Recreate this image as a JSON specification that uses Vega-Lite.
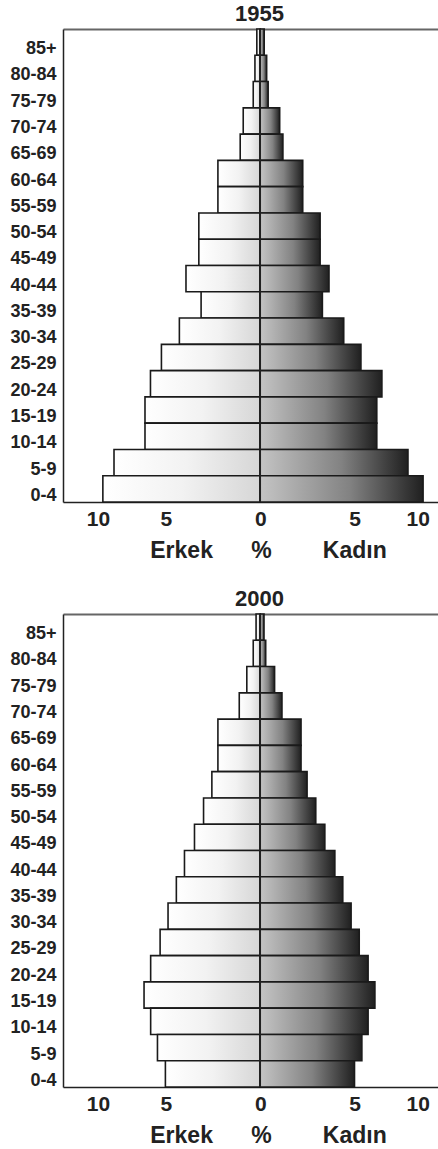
{
  "$schema": "https://vega.github.io/schema/vega-lite/v6.json",
  "autosize": "pad",
  "padding": {"left": 9, "top": 3, "right": 0, "bottom": 6},
  "background": "white",
  "config": {
    "view": {"stroke": null},
    "font": "Liberation Sans",
    "axis": {"labelFont": "Liberation Sans", "titleFont": "Liberation Sans", "labelFontWeight": "bold", "titleFontWeight": "bold", "labelColor": "#222", "titleColor": "#222", "domainColor": "#222", "domainWidth": 1.5, "ticks": false, "tickSize": 0, "grid": false},
    "title": {"font": "Liberation Sans", "fontSize": 22, "fontWeight": "bold", "color": "#222", "offset": 2, "dx": 9}
  },
  "data": {"values": [
    {"year": 1955, "age": "85+", "sex": "Erkek", "pct": -0.18}, {"year": 1955, "age": "85+", "sex": "Kadın", "pct": 0.21},
    {"year": 1955, "age": "80-84", "sex": "Erkek", "pct": -0.28}, {"year": 1955, "age": "80-84", "sex": "Kadın", "pct": 0.34},
    {"year": 1955, "age": "75-79", "sex": "Erkek", "pct": -0.37}, {"year": 1955, "age": "75-79", "sex": "Kadın", "pct": 0.42},
    {"year": 1955, "age": "70-74", "sex": "Erkek", "pct": -0.9}, {"year": 1955, "age": "70-74", "sex": "Kadın", "pct": 1.03},
    {"year": 1955, "age": "65-69", "sex": "Erkek", "pct": -1.06}, {"year": 1955, "age": "65-69", "sex": "Kadın", "pct": 1.2},
    {"year": 1955, "age": "60-64", "sex": "Erkek", "pct": -2.24}, {"year": 1955, "age": "60-64", "sex": "Kadın", "pct": 2.25},
    {"year": 1955, "age": "55-59", "sex": "Erkek", "pct": -2.24}, {"year": 1955, "age": "55-59", "sex": "Kadın", "pct": 2.25},
    {"year": 1955, "age": "50-54", "sex": "Erkek", "pct": -3.25}, {"year": 1955, "age": "50-54", "sex": "Kadın", "pct": 3.17},
    {"year": 1955, "age": "45-49", "sex": "Erkek", "pct": -3.25}, {"year": 1955, "age": "45-49", "sex": "Kadın", "pct": 3.17},
    {"year": 1955, "age": "40-44", "sex": "Erkek", "pct": -3.93}, {"year": 1955, "age": "40-44", "sex": "Kadın", "pct": 3.64},
    {"year": 1955, "age": "35-39", "sex": "Erkek", "pct": -3.13}, {"year": 1955, "age": "35-39", "sex": "Kadın", "pct": 3.29},
    {"year": 1955, "age": "30-34", "sex": "Erkek", "pct": -4.28}, {"year": 1955, "age": "30-34", "sex": "Kadın", "pct": 4.42},
    {"year": 1955, "age": "25-29", "sex": "Erkek", "pct": -5.23}, {"year": 1955, "age": "25-29", "sex": "Kadın", "pct": 5.33},
    {"year": 1955, "age": "20-24", "sex": "Erkek", "pct": -5.81}, {"year": 1955, "age": "20-24", "sex": "Kadın", "pct": 6.44},
    {"year": 1955, "age": "15-19", "sex": "Erkek", "pct": -6.1}, {"year": 1955, "age": "15-19", "sex": "Kadın", "pct": 6.17},
    {"year": 1955, "age": "10-14", "sex": "Erkek", "pct": -6.1}, {"year": 1955, "age": "10-14", "sex": "Kadın", "pct": 6.17},
    {"year": 1955, "age": "5-9", "sex": "Erkek", "pct": -7.74}, {"year": 1955, "age": "5-9", "sex": "Kadın", "pct": 7.82},
    {"year": 1955, "age": "0-4", "sex": "Erkek", "pct": -8.33}, {"year": 1955, "age": "0-4", "sex": "Kadın", "pct": 8.62},
    {"year": 2000, "age": "85+", "sex": "Erkek", "pct": -0.22}, {"year": 2000, "age": "85+", "sex": "Kadın", "pct": 0.2},
    {"year": 2000, "age": "80-84", "sex": "Erkek", "pct": -0.37}, {"year": 2000, "age": "80-84", "sex": "Kadın", "pct": 0.29},
    {"year": 2000, "age": "75-79", "sex": "Erkek", "pct": -0.71}, {"year": 2000, "age": "75-79", "sex": "Kadın", "pct": 0.76},
    {"year": 2000, "age": "70-74", "sex": "Erkek", "pct": -1.11}, {"year": 2000, "age": "70-74", "sex": "Kadın", "pct": 1.15},
    {"year": 2000, "age": "65-69", "sex": "Erkek", "pct": -2.24}, {"year": 2000, "age": "65-69", "sex": "Kadın", "pct": 2.16},
    {"year": 2000, "age": "60-64", "sex": "Erkek", "pct": -2.24}, {"year": 2000, "age": "60-64", "sex": "Kadın", "pct": 2.16},
    {"year": 2000, "age": "55-59", "sex": "Erkek", "pct": -2.56}, {"year": 2000, "age": "55-59", "sex": "Kadın", "pct": 2.48},
    {"year": 2000, "age": "50-54", "sex": "Erkek", "pct": -3.0}, {"year": 2000, "age": "50-54", "sex": "Kadın", "pct": 2.94},
    {"year": 2000, "age": "45-49", "sex": "Erkek", "pct": -3.48}, {"year": 2000, "age": "45-49", "sex": "Kadın", "pct": 3.42},
    {"year": 2000, "age": "40-44", "sex": "Erkek", "pct": -4.01}, {"year": 2000, "age": "40-44", "sex": "Kadın", "pct": 3.95},
    {"year": 2000, "age": "35-39", "sex": "Erkek", "pct": -4.44}, {"year": 2000, "age": "35-39", "sex": "Kadın", "pct": 4.37},
    {"year": 2000, "age": "30-34", "sex": "Erkek", "pct": -4.88}, {"year": 2000, "age": "30-34", "sex": "Kadın", "pct": 4.81},
    {"year": 2000, "age": "25-29", "sex": "Erkek", "pct": -5.3}, {"year": 2000, "age": "25-29", "sex": "Kadın", "pct": 5.24},
    {"year": 2000, "age": "20-24", "sex": "Erkek", "pct": -5.8}, {"year": 2000, "age": "20-24", "sex": "Kadın", "pct": 5.71},
    {"year": 2000, "age": "15-19", "sex": "Erkek", "pct": -6.15}, {"year": 2000, "age": "15-19", "sex": "Kadın", "pct": 6.07},
    {"year": 2000, "age": "10-14", "sex": "Erkek", "pct": -5.8}, {"year": 2000, "age": "10-14", "sex": "Kadın", "pct": 5.71},
    {"year": 2000, "age": "5-9", "sex": "Erkek", "pct": -5.44}, {"year": 2000, "age": "5-9", "sex": "Kadın", "pct": 5.38},
    {"year": 2000, "age": "0-4", "sex": "Erkek", "pct": -5.02}, {"year": 2000, "age": "0-4", "sex": "Kadın", "pct": 4.99}
  ]},
  "bounds": "flush",
  "spacing": 112,
  "vconcat": [
    {
      "title": "1955",
      "width": 375,
      "height": 473,
      "transform": [{"filter": "datum.year == 1955"}],
      "layer": [
        {
          "transform": [{"filter": "datum.sex == 'Erkek'"}],
          "mark": {"type": "bar", "fill": {"gradient": "linear", "x1": 0, "y1": 0, "x2": 1, "y2": 0, "stops": [{"offset": 0, "color": "#ffffff"}, {"offset": 0.5, "color": "#f2f2f2"}, {"offset": 1, "color": "#d6d6d6"}]}, "stroke": "#1a1a1a", "strokeWidth": 1.6},
          "encoding": {
            "y": {"field": "age", "type": "ordinal", "sort": ["85+", "80-84", "75-79", "70-74", "65-69", "60-64", "55-59", "50-54", "45-49", "40-44", "35-39", "30-34", "25-29", "20-24", "15-19", "10-14", "5-9", "0-4"], "scale": {"paddingInner": 0, "paddingOuter": 0}, "axis": {"title": null, "labelFontSize": 18, "labelPadding": 7, "labelOffset": 7, "ticks": false, "tickSize": 0}},
            "x": {"field": "pct", "type": "quantitative", "scale": {"domain": [-10.44, 9.41], "nice": false, "zero": false}, "axis": {"orient": "bottom", "values": [-8.59, -5, 0, 5, 8.34], "labelExpr": "abs(datum.value) > 7 ? '10' : format(abs(datum.value), 'd')", "labelFontSize": 21, "labelPadding": 23, "labelBaseline": "alphabetic", "labelFlush": false, "labelOverlap": false, "labelBound": false, "title": "Erkek\u00a0\u00a0\u00a0\u00a0\u00a0\u00a0%\u00a0\u00a0\u00a0\u00a0\u00a0\u00a0\u00a0\u00a0Kadın", "titleFontSize": 23, "titleX": 205, "titleY": 55, "titleAlign": "center", "titleBaseline": "alphabetic"}},
            "x2": {"datum": 0}
          }
        },
        {
          "transform": [{"filter": "datum.sex == 'Kadın'"}],
          "mark": {"type": "bar", "fill": {"gradient": "linear", "x1": 0, "y1": 0, "x2": 1, "y2": 0, "stops": [{"offset": 0, "color": "#c4c4c4"}, {"offset": 0.55, "color": "#828282"}, {"offset": 1, "color": "#202020"}]}, "stroke": "#1a1a1a", "strokeWidth": 1.6},
          "encoding": {
            "y": {"field": "age", "type": "ordinal", "sort": ["85+", "80-84", "75-79", "70-74", "65-69", "60-64", "55-59", "50-54", "45-49", "40-44", "35-39", "30-34", "25-29", "20-24", "15-19", "10-14", "5-9", "0-4"]},
            "x": {"field": "pct", "type": "quantitative", "axis": null},
            "x2": {"datum": 0}
          }
        },
        {
          "mark": {"type": "rule", "color": "#222", "strokeWidth": 1.5},
          "encoding": {
            "x": {"datum": 0, "type": "quantitative", "axis": {"orient": "top", "labels": false, "ticks": false, "title": null, "domainColor": "#666", "domainWidth": 2}}
          }
        }
      ],
      "resolve": {"axis": {"x": "independent"}}
    },
    {
      "title": "2000",
      "width": 375,
      "height": 473,
      "transform": [{"filter": "datum.year == 2000"}],
      "layer": [
        {
          "transform": [{"filter": "datum.sex == 'Erkek'"}],
          "mark": {"type": "bar", "fill": {"gradient": "linear", "x1": 0, "y1": 0, "x2": 1, "y2": 0, "stops": [{"offset": 0, "color": "#ffffff"}, {"offset": 0.5, "color": "#f2f2f2"}, {"offset": 1, "color": "#d6d6d6"}]}, "stroke": "#1a1a1a", "strokeWidth": 1.6},
          "encoding": {
            "y": {"field": "age", "type": "ordinal", "sort": ["85+", "80-84", "75-79", "70-74", "65-69", "60-64", "55-59", "50-54", "45-49", "40-44", "35-39", "30-34", "25-29", "20-24", "15-19", "10-14", "5-9", "0-4"], "scale": {"paddingInner": 0, "paddingOuter": 0}, "axis": {"title": null, "labelFontSize": 18, "labelPadding": 7, "labelOffset": 7, "ticks": false, "tickSize": 0}},
            "x": {"field": "pct", "type": "quantitative", "scale": {"domain": [-10.44, 9.41], "nice": false, "zero": false}, "axis": {"orient": "bottom", "values": [-8.59, -5, 0, 5, 8.34], "labelExpr": "abs(datum.value) > 7 ? '10' : format(abs(datum.value), 'd')", "labelFontSize": 21, "labelPadding": 23, "labelBaseline": "alphabetic", "labelFlush": false, "labelOverlap": false, "labelBound": false, "title": "Erkek\u00a0\u00a0\u00a0\u00a0\u00a0\u00a0%\u00a0\u00a0\u00a0\u00a0\u00a0\u00a0\u00a0\u00a0Kadın", "titleFontSize": 23, "titleX": 205, "titleY": 55, "titleAlign": "center", "titleBaseline": "alphabetic"}},
            "x2": {"datum": 0}
          }
        },
        {
          "transform": [{"filter": "datum.sex == 'Kadın'"}],
          "mark": {"type": "bar", "fill": {"gradient": "linear", "x1": 0, "y1": 0, "x2": 1, "y2": 0, "stops": [{"offset": 0, "color": "#c4c4c4"}, {"offset": 0.55, "color": "#828282"}, {"offset": 1, "color": "#202020"}]}, "stroke": "#1a1a1a", "strokeWidth": 1.6},
          "encoding": {
            "y": {"field": "age", "type": "ordinal", "sort": ["85+", "80-84", "75-79", "70-74", "65-69", "60-64", "55-59", "50-54", "45-49", "40-44", "35-39", "30-34", "25-29", "20-24", "15-19", "10-14", "5-9", "0-4"]},
            "x": {"field": "pct", "type": "quantitative", "axis": null},
            "x2": {"datum": 0}
          }
        },
        {
          "mark": {"type": "rule", "color": "#222", "strokeWidth": 1.5},
          "encoding": {
            "x": {"datum": 0, "type": "quantitative", "axis": {"orient": "top", "labels": false, "ticks": false, "title": null, "domainColor": "#666", "domainWidth": 2}}
          }
        }
      ],
      "resolve": {"axis": {"x": "independent"}}
    }
  ]
}
